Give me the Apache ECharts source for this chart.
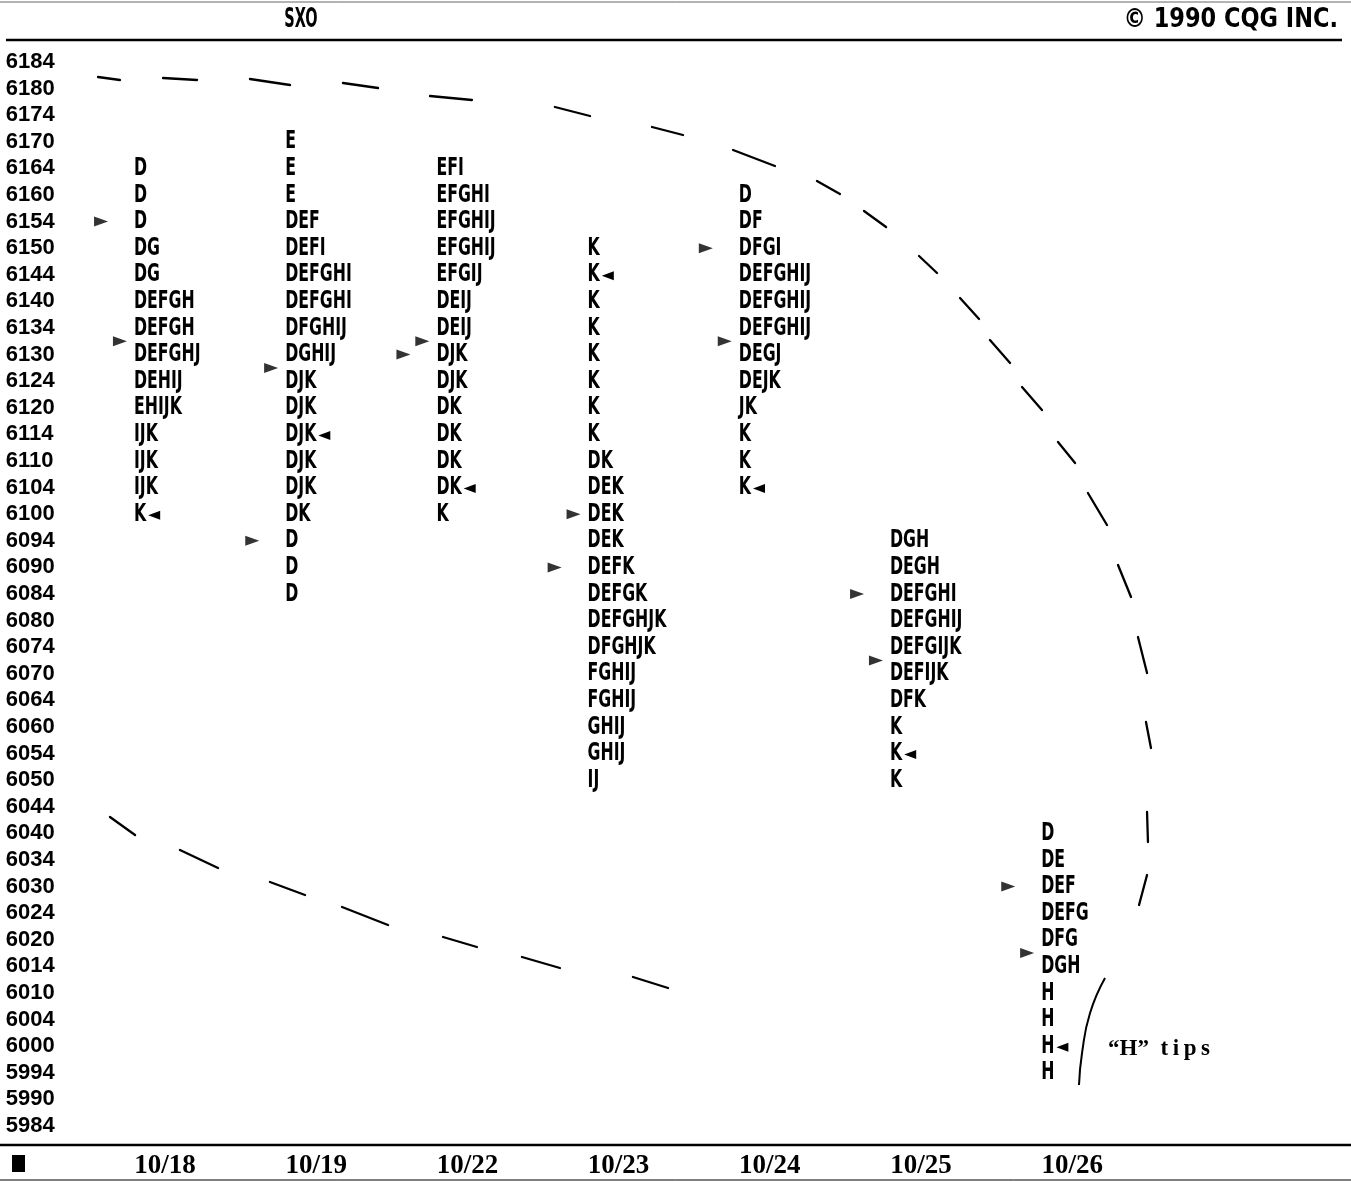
<!DOCTYPE html>
<html>
<head>
<meta charset="utf-8">
<script src="https://cdn.jsdelivr.net/npm/echarts@6/dist/echarts.min.js"></script>
<style>
html,body{margin:0;padding:0;background:#fff;}
#c{width:1351px;height:1182px;}
</style>
</head>
<body>
<div id="c"></div>
<script>
// ---- tick labels ----
const prices = ['6184','6180','6174','6170','6164','6160','6154','6150','6144','6140','6134','6130','6124','6120','6114','6110','6104','6100','6094','6090','6084','6080','6074','6070','6064','6060','6054','6050','6044','6040','6034','6030','6024','6020','6014','6010','6004','6000','5994','5990','5984'];
const dates = ['10/18','10/19','10/22','10/23','10/24','10/25','10/26'];

// ---- profiles (letters per price row, from top price downward) ----
const profileTops = ['6164','6170','6164','6150','6160','6094','6040'];
const p1018 = ['D','D','D','DG','DG','DEFGH','DEFGH','DEFGHJ','DEHIJ','EHIJK','IJK','IJK','IJK','K'];
const p1019 = ['E','E','E','DEF','DEFI','DEFGHI','DEFGHI','DFGHIJ','DGHIJ','DJK','DJK','DJK','DJK','DJK','DK','D','D','D'];
const p1022 = ['EFI','EFGHI','EFGHIJ','EFGHIJ','EFGIJ','DEIJ','DEIJ','DJK','DJK','DK','DK','DK','DK','K'];
const p1023 = ['K','K','K','K','K','K','K','K','DK','DEK','DEK','DEK','DEFK','DEFGK','DEFGHJK','DFGHJK','FGHIJ','FGHIJ','GHIJ','GHIJ','IJ'];
const p1024 = ['D','DF','DFGI','DEFGHIJ','DEFGHIJ','DEFGHIJ','DEGJ','DEJK','JK','K','K','K'];
const p1025 = ['DGH','DEGH','DEFGHI','DEFGHIJ','DEFGIJK','DEFIJK','DFK','K','K','K'];
const p1026 = ['D','DE','DEF','DEFG','DFG','DGH','H','H','H','H'];
const profiles = [p1018, p1019, p1022, p1023, p1024, p1025, p1026];

// ---- close markers (◄) : [date, price] ----
const closeMarks = [['10/18','6100'],['10/19','6114'],['10/22','6104'],['10/23','6144'],['10/24','6104'],['10/25','6054'],['10/26','6000']];
// ---- open markers (►) : [date, price, half-row shift, kind] ----
const openMarks = [
  ['10/18','6154',0,'far'],['10/18','6134',0.5,'near'],
  ['10/19','6094',0,'far'],['10/19','6130',0.5,'near'],
  ['10/22','6130',0,'far'],['10/22','6134',0.5,'near'],
  ['10/23','6090',0,'far'],['10/23','6100',0,'near'],
  ['10/24','6150',0,'far'],['10/24','6134',0.5,'near'],
  ['10/25','6084',0,'far'],['10/25','6074',0.5,'near'],
  ['10/26','6030',0,'far'],['10/26','6020',0.5,'near']
];

// ---- hand-drawn dashed oval: each dash [dayPos1, rowPos1, dayPos2, rowPos2] ----
const arcTopDashes = [
  [-0.443,0.564,-0.298,0.677],[-0.013,0.602,0.212,0.677],[0.562,0.639,0.827,0.865],
  [1.177,0.789,1.409,0.977],[1.753,1.278,2.030,1.429],[2.579,1.692,2.811,2.030],
  [3.221,2.444,3.426,2.744],[3.757,3.308,4.034,3.910],[4.312,4.474,4.464,4.962],
  [4.623,5.602,4.769,6.203],[4.987,7.293,5.106,7.932],[5.258,8.872,5.384,9.662],
  [5.456,10.451,5.589,11.316],[5.668,12.218,5.800,13.083],[5.906,14.286,6.019,15.075],
  [6.104,16.203,6.230,17.406],[6.303,18.910,6.389,20.113],[6.435,21.617,6.495,22.970],
  [6.488,24.812,6.521,25.789],[6.495,28.195,6.501,29.323],[6.495,30.564,6.442,31.692]
];
const arcBotDashes = [
  [-0.364,28.383,-0.198,29.060],[0.099,29.624,0.351,30.301],[0.694,30.827,0.926,31.316],
  [1.171,31.767,1.475,32.444],[1.839,32.895,2.063,33.271],[2.361,33.647,2.612,34.060],
  [3.095,34.398,3.327,34.812]
];
// ---- "H" tips bracket ----
const tipsX = [6.217,6.118,6.065,6.045];
const tipsY = [34.436,35.752,37.256,38.459];

// ---- build ----
const LETTER_SHIFT = -0.205, FAR = -0.423, NEAR = -0.298;
const rowOf = p => prices.indexOf(p);
const dayOf = d => dates.indexOf(d);
const letterData = [];
profiles.forEach((arr, i) => {
  const t = rowOf(profileTops[i]);
  arr.forEach((txt, j) => {
    const pr = prices[t + j];
    const close = closeMarks.some(c => c[0] === dates[i] && c[1] === pr);
    letterData.push({ value: [i + LETTER_SHIFT, t + j], text: txt, close: close });
  });
});
const openData = openMarks.map(m => [dayOf(m[0]) + (m[3] === 'far' ? FAR : NEAR), rowOf(m[1]) + m[2]]);
const dashData = arcTopDashes.concat(arcBotDashes);
const zip = (xs, ys) => xs.map((x, k) => [x, ys[k]]);

const COND = "'DejaVu Sans Condensed','DejaVu Sans',sans-serif";
const SERIF = "'Liberation Serif','Times New Roman',serif";
const LETTER_FONT = 'bold 25px ' + COND;
const LETTER_SX = 0.7;
const meas = document.createElement('canvas').getContext('2d');
meas.font = LETTER_FONT;

const chart = echarts.init(document.getElementById('c'), null, { renderer: 'canvas' });
chart.setOption({
  backgroundColor: '#fff',
  animation: false,
  grid: { left: 13.8, right: 127.6, top: 35.4, bottom: 29.4, containLabel: false },
  xAxis: {
    type: 'value', min: -1, max: 7, interval: 1,
    axisLine: { show: false }, axisTick: { show: false }, splitLine: { show: false },
    axisLabel: {
      formatter: v => dates[v] !== undefined ? dates[v] : '',
      fontFamily: SERIF, fontWeight: 'bold', fontSize: 27, color: '#000', margin: 0
    }
  },
  yAxis: {
    type: 'value', inverse: true, min: -1, max: 41, interval: 1,
    axisLine: { show: false }, axisTick: { show: false }, splitLine: { show: false },
    axisLabel: {
      formatter: v => prices[v] !== undefined ? prices[v] : '',
      fontFamily: "'Liberation Sans',Arial,sans-serif", fontWeight: 'bold', fontSize: 22, color: '#000',
      align: 'left', margin: 8
    }
  },
  series: [
    {
      type: 'custom', data: letterData, silent: true,
      renderItem: (params, api) => {
        const d = letterData[params.dataIndex];
        const pt = api.coord([api.value(0), api.value(1)]);
        const children = [{
          type: 'text', x: pt[0], y: pt[1], scaleX: LETTER_SX, scaleY: 1,
          style: { text: d.text, font: LETTER_FONT, fill: '#000', align: 'left', verticalAlign: 'middle', textAlign: 'left', textVerticalAlign: 'middle' }
        }];
        if (d.close) {
          const w = meas.measureText(d.text).width * LETTER_SX;
          const x0 = pt[0] + w + 2, y0 = pt[1] + 1;
          children.push({
            type: 'polygon',
            shape: { points: [[x0, y0], [x0 + 12, y0 - 4.5], [x0 + 12, y0 + 4.5]] },
            style: { fill: '#000' }
          });
        }
        return { type: 'group', children: children };
      }
    },
    {
      type: 'scatter', data: openData, symbol: 'triangle', symbolRotate: -90,
      symbolSize: [10, 14], itemStyle: { color: '#000' }, silent: true
    },
    {
      type: 'custom', data: dashData, silent: true,
      renderItem: (params, api) => {
        const a = api.coord([api.value(0), api.value(1)]);
        const b = api.coord([api.value(2), api.value(3)]);
        return {
          type: 'line', shape: { x1: a[0], y1: a[1], x2: b[0], y2: b[1] },
          style: { stroke: '#000', lineWidth: 2.3, lineCap: 'round' }
        };
      }
    },
    {
      type: 'line', data: zip(tipsX, tipsY), smooth: 0.5, showSymbol: false, symbol: 'none',
      lineStyle: { color: '#000', width: 2 }, silent: true
    }
  ],
  graphic: [
    { type: 'line', shape: { x1: 0, y1: 2, x2: 1351, y2: 2 }, style: { stroke: '#666', lineWidth: 1 } },
    { type: 'line', shape: { x1: 6, y1: 40, x2: 1342, y2: 40 }, style: { stroke: '#000', lineWidth: 2.5 } },
    { type: 'line', shape: { x1: 0, y1: 1145, x2: 1351, y2: 1145 }, style: { stroke: '#000', lineWidth: 2.5 } },
    { type: 'line', shape: { x1: 0, y1: 1180, x2: 1351, y2: 1180 }, style: { stroke: '#000', lineWidth: 1 } },
    { type: 'rect', shape: { x: 12, y: 1155, width: 13, height: 17 }, style: { fill: '#000' } },
    { type: 'text', x: 301, y: 20, scaleX: 0.62, style: { text: 'SXO', font: 'bold 26px ' + COND, fill: '#000', align: 'center', verticalAlign: 'middle', textAlign: 'center', textVerticalAlign: 'middle' } },
    { type: 'text', x: 1338, y: 20, scaleX: 0.96, style: { text: '© 1990 CQG INC.', font: 'bold 26px ' + COND, fill: '#000', align: 'right', verticalAlign: 'middle', textAlign: 'right', textVerticalAlign: 'middle' } },
    { type: 'text', x: 1108, y: 1049, style: { text: '“H”  t\u2009i\u2009p\u2009s', font: 'bold 23px ' + SERIF, fill: '#000', align: 'left', verticalAlign: 'middle', textAlign: 'left', textVerticalAlign: 'middle' } }
  ]
});
</script>
</body>
</html>
